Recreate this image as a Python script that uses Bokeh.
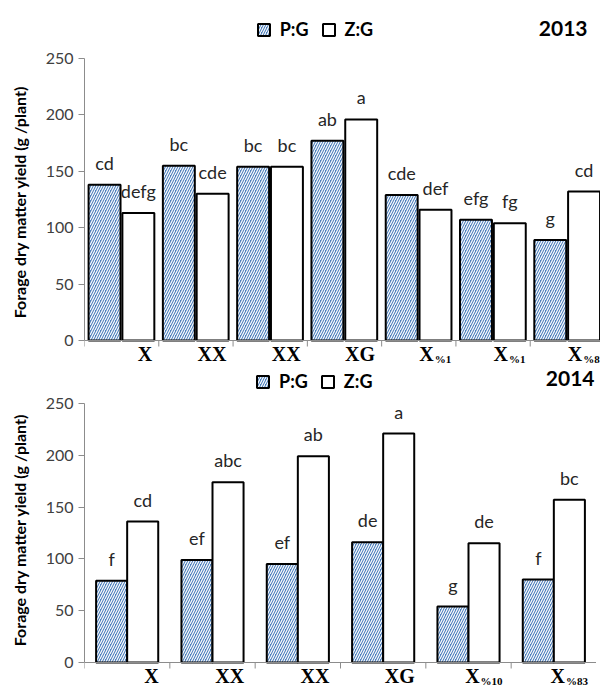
from bokeh.plotting import figure
from bokeh.layouts import column
from bokeh.models import Range1d, FixedTicker, Legend, LegendItem, ColumnDataSource, Span
from bokeh.core.properties import value
from bokeh.embed import file_html
from bokeh.resources import INLINE

# ---------------- data ----------------
names_2013 = ["X", "XX", "XX", "XG", "X", "X", "X"]
subs_2013 = ["", "", "", "", "%1", "%1", "%8"]
pg_2013 = [138, 155, 154, 177, 129, 107, 89]
zg_2013 = [113, 130, 154, 196, 116, 104, 132]
pg_let_2013 = ["cd", "bc", "bc", "ab", "cde", "efg", "g"]
zg_let_2013 = ["defg", "cde", "bc", "a", "def", "fg", "cd"]

names_2014 = ["X", "XX", "XX", "XG", "X", "X"]
subs_2014 = ["", "", "", "", "%10", "%83"]
pg_2014 = [79, 99, 95, 116, 54, 80]
zg_2014 = [136, 174, 199, 221, 115, 157]
pg_let_2014 = ["f", "ef", "ef", "de", "g", "f"]
zg_let_2014 = ["cd", "abc", "ab", "a", "de", "bc"]

series_names = ["P:G", "Z:G"]
y_ticks = [0, 50, 100, 150, 200, 250]
y_max_tick = 250
y_title = "Forage dry matter yield (g /plant)"

BLUE = "#4F81BD"
SANS = "Lato"
SERIF = "Liberation Serif"
AXIS_GREY = "#8c8c8c"
NBSP = "\u00a0"


def make_chart(year, names, subs, pg, zg, pg_let, zg_let,
               fw, fh, bl, br, top_px, zero_px,
               c1, c2, bw, plain_anchor, sub_anchor, leg_xy, year_off, lab_mid, sub_mid,
               title_pad):
    n = len(names)
    ppu = (zero_px - top_px) / y_max_tick            # pixels per unit
    y_hi = y_max_tick + top_px / ppu
    y_lo = -(fh - zero_px) / ppu
    p = figure(frame_width=fw, frame_height=fh, min_border_left=bl, min_border_right=br,
               min_border_top=0, min_border_bottom=0, x_axis_location=None,
               x_range=Range1d(0, n), y_range=Range1d(y_lo, y_hi),
               output_backend="svg", toolbar_location=None, tools="")
    p.outline_line_color = None
    p.grid.grid_line_color = None
    p.background_fill_color = "white"
    p.border_fill_color = "white"

    idx = list(range(n))
    src = ColumnDataSource(dict(
        x1=[i + c1 for i in idx], x2=[i + c2 for i in idx],
        pg=pg, zg=zg, pgl=pg_let, zgl=zg_let))

    r1 = p.vbar(x="x1", top="pg", width=bw, source=src, fill_color=BLUE,
                hatch_pattern="right_diagonal_line", hatch_color="white",
                hatch_scale=5.0, hatch_weight=1.2, line_color="black", line_width=2)
    r2 = p.vbar(x="x2", top="zg", width=bw, source=src, fill_color="white",
                line_color="black", line_width=2)

    for xcol, ycol, tcol in (("x1", "pg", "pgl"), ("x2", "zg", "zgl")):
        p.text(x=xcol, y=ycol, text=tcol, source=src, text_align="center",
               text_baseline="bottom", y_offset=-11, text_font=value(SANS),
               text_font_size="18px", text_color="#262626")

    # y axis
    yax = p.yaxis[0]
    yax.bounds = (0, y_max_tick)
    yax.ticker = FixedTicker(ticks=y_ticks)
    yax.axis_line_color = AXIS_GREY
    yax.major_tick_line_color = AXIS_GREY
    yax.major_tick_out = 6
    yax.major_tick_in = 0
    yax.minor_tick_line_color = None
    yax.major_label_text_font = SANS
    yax.major_label_text_font_size = "16px"
    yax.major_label_text_color = "#404040"
    yax.major_label_standoff = 5
    yax.axis_label = y_title + NBSP * title_pad
    yax.axis_label_text_font = SANS
    yax.axis_label_text_font_style = "bold"
    yax.axis_label_text_font_size = "16px"
    yax.axis_label_text_color = "black"
    yax.axis_label_standoff = 14

    # x axis line at zero and group separator ticks
    p.add_layout(Span(location=0, dimension="width", line_color=AXIS_GREY, line_width=1))
    bounds = list(range(n + 1))
    p.segment(x0=bounds, y0=[0] * (n + 1), x1=bounds, y1=[-6 / ppu] * (n + 1),
              line_color=AXIS_GREY, line_width=1)

    # category labels (main text + subscript)
    main_x = [i + (sub_anchor if subs[i] else plain_anchor) for i in idx]
    p.text(x=main_x, y=[0] * n, text=names, text_align="right", text_baseline="middle",
           y_offset=lab_mid, text_font=value(SERIF), text_font_style="bold",
           text_font_size="20px", text_color="black")
    sub_idx = [i for i in idx if subs[i]]
    p.text(x=[i + sub_anchor for i in sub_idx], y=[0] * len(sub_idx),
           text=[subs[i] for i in sub_idx], text_align="left", text_baseline="middle",
           x_offset=1, y_offset=sub_mid, text_font=value(SERIF), text_font_style="bold",
           text_font_size="11px", text_color="black")

    # year
    p.text(x=[n], y=[y_max_tick], text=[year], text_align="right", text_baseline="middle",
           x_offset=year_off[0], y_offset=year_off[1], text_font=value(SANS),
           text_font_style="bold", text_font_size="21px", text_color="black")

    legend = Legend(items=[LegendItem(label=series_names[0], renderers=[r1]),
                           LegendItem(label=series_names[1], renderers=[r2])],
                    orientation="horizontal", location=leg_xy,
                    glyph_width=15, glyph_height=15, label_height=15,
                    label_standoff=9, spacing=12, padding=0, margin=0,
                    border_line_color=None, background_fill_alpha=0,
                    label_text_font=SANS, label_text_font_style="bold",
                    label_text_font_size="18px", label_text_color="black")
    p.add_layout(legend, "center")
    return p


p1 = make_chart("2013", names_2013, subs_2013, pg_2013, zg_2013, pg_let_2013, zg_let_2013,
                fw=520, fh=364, bl=74, br=2, top_px=58, zero_px=340,
                c1=0.27, c2=0.725, bw=0.43, plain_anchor=0.91, sub_anchor=0.70,
                leg_xy=(177, 324), year_off=(-17, -30), lab_mid=13, sub_mid=18,
                title_pad=10)
p2 = make_chart("2014", names_2014, subs_2014, pg_2014, zg_2014, pg_let_2014, zg_let_2014,
                fw=512, fh=323, bl=84, br=0, top_px=39, zero_px=298,
                c1=0.318, c2=0.682, bw=0.364, plain_anchor=0.87, sub_anchor=0.63,
                leg_xy=(171, 295), year_off=(-2, -25), lab_mid=13, sub_mid=18,
                title_pad=2)

layout = column(p1, p2, spacing=0)
open("out.html", "w").write(file_html(layout, INLINE))
